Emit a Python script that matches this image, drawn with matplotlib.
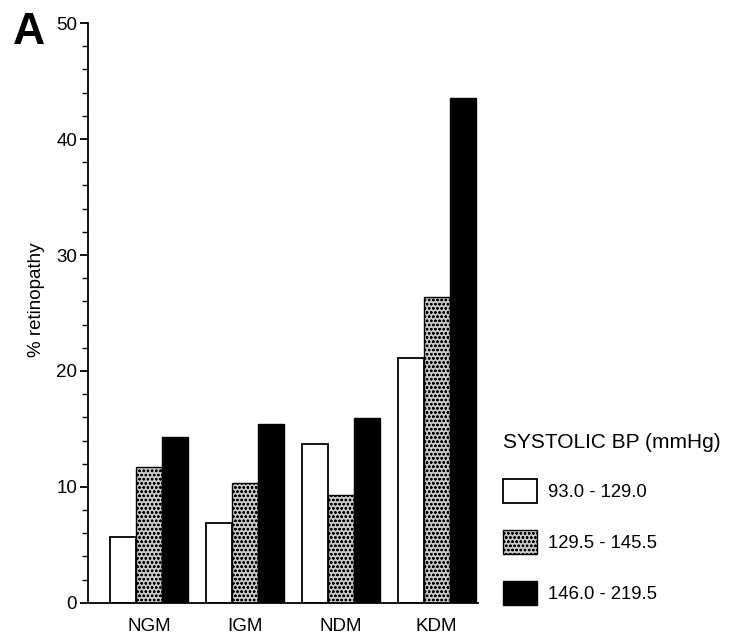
import numpy as np
import matplotlib.pyplot as plt
from matplotlib.ticker import MultipleLocator

plt.rcParams['font.family'] = ['Liberation Sans', 'DejaVu Sans']
plt.rcParams['hatch.linewidth'] = 0.6

# Data
groups = ['NGM', 'IGM', 'NDM', 'KDM']
bp_labels = ['93.0 - 129.0', '129.5 - 145.5', '146.0 - 219.5']
low_bp = [5.7, 6.9, 13.7, 21.1]
mid_bp = [11.7, 10.3, 9.3, 26.4]
high_bp = [14.3, 15.4, 15.9, 43.5]

fig = plt.figure(figsize=(7.41, 6.42), dpi=100)
ax = fig.add_axes([0.119, 0.061, 0.526, 0.903])

x = np.arange(len(groups))
w = 0.27

b1 = ax.bar(x - w, low_bp, w, color='white', edgecolor='black', linewidth=1.3)
b2 = ax.bar(x, mid_bp, w, color='#c8c8c8', edgecolor='black', hatch='oooo', linewidth=1.0)
b3 = ax.bar(x + w, high_bp, w, color='black', edgecolor='black', linewidth=1.0)

ax.set_xlim(-0.635, 3.43)
ax.set_ylim(0, 50)
ax.yaxis.set_major_locator(MultipleLocator(10))
ax.yaxis.set_minor_locator(MultipleLocator(2))
ax.set_xticks(x)
ax.set_xticklabels(groups, fontsize=13.5)
ax.tick_params(axis='x', length=0, pad=11)
ax.tick_params(axis='y', which='major', length=6, width=1.3, labelsize=13.5, pad=2)
ax.tick_params(axis='y', which='minor', length=4, width=1.0)
ax.spines['top'].set_visible(False)
ax.spines['right'].set_visible(False)
ax.spines['left'].set_linewidth(1.3)
ax.spines['bottom'].set_linewidth(1.3)
ax.set_ylabel('% retinopathy', fontsize=13.5)
ax.yaxis.set_label_coords(-0.110, 0.522)

fig.text(0.018, 0.932, 'A', fontsize=32, fontweight='bold', va='baseline', ha='left')

leg = fig.legend([b1, b2, b3], bp_labels, title='SYSTOLIC BP (mmHg)',
                 loc='upper left', bbox_to_anchor=(0.657, 0.351),
                 frameon=False, fontsize=13.3, title_fontsize=15,
                 handlelength=1.8, handleheight=1.62, labelspacing=1.45,
                 handletextpad=0.6)
leg._legend_box.align = 'left'

fig.savefig('out.png', dpi=100)
